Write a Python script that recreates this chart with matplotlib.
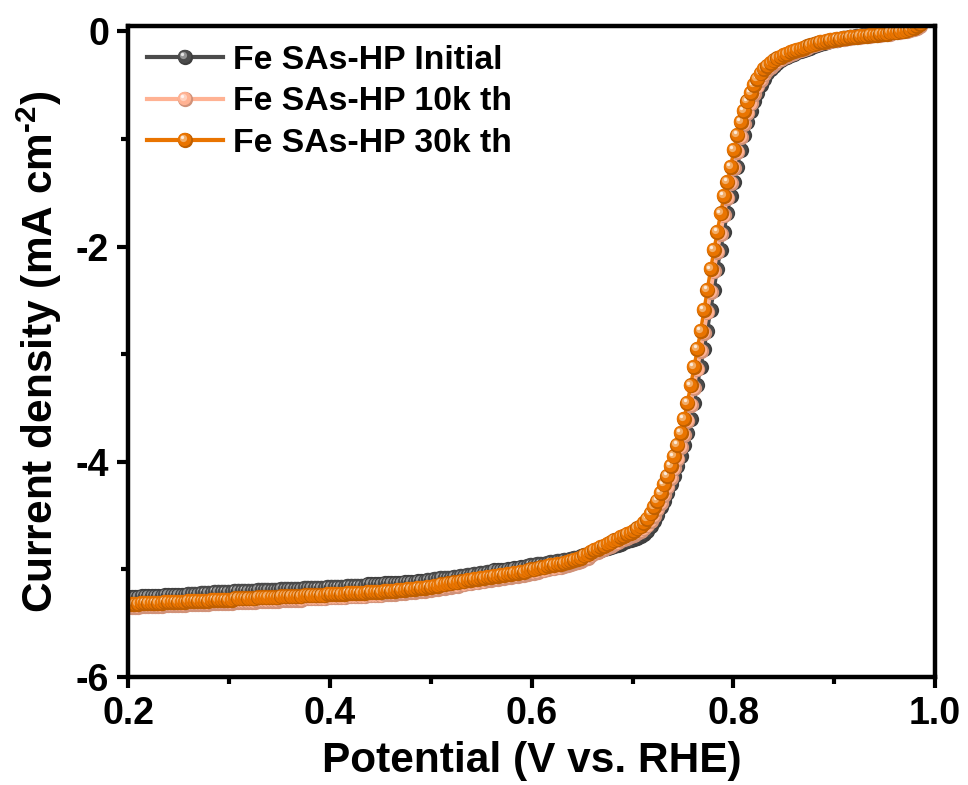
import numpy as np
import matplotlib
matplotlib.use("Agg")
import matplotlib.pyplot as plt
import matplotlib.transforms as mtransforms
from matplotlib.colors import to_rgb
from matplotlib.lines import Line2D
from matplotlib.legend_handler import HandlerLine2D, HandlerTuple
from matplotlib.ticker import MultipleLocator

# ---- data: LSV sweep, potential sampled every 3.3 mV ----
potential = np.round(0.2 + 0.0033 * np.arange(239), 4)

initial = [
    -5.26, -5.26, -5.26, -5.26, -5.25, -5.25, -5.25, -5.25, -5.25, -5.25,
    -5.25, -5.24, -5.24, -5.24, -5.24, -5.24, -5.24, -5.24, -5.23, -5.23,
    -5.23, -5.23, -5.22, -5.22, -5.22, -5.22, -5.21, -5.21, -5.21, -5.21,
    -5.21, -5.21, -5.20, -5.20, -5.20, -5.20, -5.20, -5.20, -5.20, -5.19,
    -5.19, -5.19, -5.19, -5.19, -5.19, -5.19, -5.18, -5.18, -5.18, -5.18,
    -5.18, -5.18, -5.18, -5.17, -5.17, -5.17, -5.17, -5.17, -5.17, -5.17,
    -5.16, -5.16, -5.16, -5.16, -5.16, -5.16, -5.15, -5.15, -5.15, -5.15,
    -5.15, -5.15, -5.14, -5.14, -5.14, -5.14, -5.14, -5.13, -5.13, -5.13,
    -5.13, -5.13, -5.13, -5.12, -5.12, -5.12, -5.12, -5.11, -5.11, -5.11,
    -5.10, -5.10, -5.09, -5.09, -5.08, -5.08, -5.08, -5.08, -5.07, -5.07,
    -5.06, -5.06, -5.05, -5.05, -5.04, -5.04, -5.03, -5.03, -5.02, -5.02,
    -5.01, -5.01, -5.01, -5.01, -5.00, -5.00, -4.99, -4.99, -4.98, -4.98,
    -4.97, -4.96, -4.96, -4.95, -4.95, -4.95, -4.94, -4.93, -4.93, -4.92,
    -4.92, -4.91, -4.91, -4.90, -4.89, -4.89, -4.88, -4.87, -4.86, -4.85,
    -4.84, -4.83, -4.82, -4.81, -4.80, -4.79, -4.78, -4.77, -4.76, -4.75,
    -4.74, -4.73, -4.72, -4.71, -4.69, -4.67, -4.64, -4.60, -4.55, -4.49,
    -4.42, -4.36, -4.29, -4.21, -4.13, -4.04, -3.95, -3.84, -3.73, -3.60,
    -3.45, -3.29, -3.12, -2.95, -2.78, -2.59, -2.40, -2.21, -2.03, -1.86,
    -1.69, -1.53, -1.40, -1.26, -1.10, -0.96, -0.84, -0.74, -0.65, -0.57,
    -0.50, -0.44, -0.39, -0.35, -0.32, -0.29, -0.27, -0.25, -0.24, -0.22,
    -0.21, -0.19, -0.18, -0.17, -0.16, -0.15, -0.14, -0.13, -0.12, -0.11,
    -0.10, -0.09, -0.08, -0.08, -0.07, -0.06, -0.06, -0.05, -0.05, -0.04,
    -0.04, -0.03, -0.03, -0.03, -0.02, -0.02, -0.02, -0.01, -0.01, -0.01,
    0.00, 0.00, 0.01, 0.01, 0.02, 0.03, 0.04, 0.05, 0.07,
]

cycles_10k = [
    -5.35, -5.35, -5.35, -5.35, -5.34, -5.34, -5.34, -5.34, -5.34, -5.34,
    -5.34, -5.33, -5.33, -5.33, -5.33, -5.33, -5.33, -5.33, -5.32, -5.32,
    -5.32, -5.32, -5.32, -5.32, -5.32, -5.31, -5.31, -5.31, -5.31, -5.31,
    -5.31, -5.31, -5.30, -5.30, -5.30, -5.30, -5.30, -5.30, -5.30, -5.29,
    -5.29, -5.29, -5.29, -5.29, -5.29, -5.29, -5.28, -5.28, -5.28, -5.28,
    -5.28, -5.28, -5.28, -5.27, -5.27, -5.27, -5.27, -5.27, -5.27, -5.27,
    -5.26, -5.26, -5.26, -5.26, -5.26, -5.26, -5.25, -5.25, -5.25, -5.25,
    -5.25, -5.25, -5.24, -5.24, -5.24, -5.24, -5.24, -5.23, -5.23, -5.23,
    -5.23, -5.22, -5.22, -5.22, -5.21, -5.21, -5.21, -5.20, -5.20, -5.20,
    -5.19, -5.19, -5.18, -5.18, -5.17, -5.17, -5.16, -5.16, -5.15, -5.15,
    -5.14, -5.14, -5.13, -5.13, -5.12, -5.12, -5.11, -5.11, -5.10, -5.10,
    -5.09, -5.09, -5.08, -5.08, -5.07, -5.07, -5.06, -5.06, -5.05, -5.05,
    -5.04, -5.03, -5.03, -5.02, -5.01, -5.01, -5.00, -4.99, -4.99, -4.98,
    -4.98, -4.97, -4.96, -4.95, -4.94, -4.93, -4.92, -4.90, -4.89, -4.87,
    -4.85, -4.84, -4.82, -4.81, -4.79, -4.78, -4.76, -4.75, -4.73, -4.72,
    -4.71, -4.69, -4.68, -4.66, -4.64, -4.62, -4.59, -4.55, -4.50, -4.44,
    -4.38, -4.31, -4.23, -4.15, -4.06, -3.97, -3.86, -3.75, -3.62, -3.47,
    -3.31, -3.14, -2.97, -2.80, -2.61, -2.42, -2.23, -2.05, -1.88, -1.71,
    -1.55, -1.41, -1.27, -1.12, -0.98, -0.86, -0.76, -0.67, -0.58, -0.51,
    -0.45, -0.40, -0.36, -0.33, -0.30, -0.28, -0.26, -0.24, -0.23, -0.21,
    -0.20, -0.18, -0.17, -0.16, -0.15, -0.14, -0.13, -0.12, -0.11, -0.10,
    -0.10, -0.09, -0.08, -0.08, -0.07, -0.07, -0.06, -0.06, -0.05, -0.05,
    -0.05, -0.04, -0.04, -0.04, -0.03, -0.03, -0.03, -0.02, -0.02, -0.02,
    -0.01, -0.01, -0.01, 0.00, 0.00, 0.01, 0.02, 0.03, 0.05,
]

cycles_30k = [
    -5.32, -5.32, -5.32, -5.32, -5.31, -5.31, -5.31, -5.31, -5.31, -5.31,
    -5.31, -5.30, -5.30, -5.30, -5.30, -5.30, -5.30, -5.30, -5.29, -5.29,
    -5.29, -5.29, -5.29, -5.29, -5.29, -5.28, -5.28, -5.28, -5.28, -5.28,
    -5.28, -5.28, -5.27, -5.27, -5.27, -5.27, -5.27, -5.27, -5.27, -5.26,
    -5.26, -5.26, -5.26, -5.26, -5.26, -5.26, -5.25, -5.25, -5.25, -5.25,
    -5.25, -5.25, -5.25, -5.24, -5.24, -5.24, -5.24, -5.24, -5.24, -5.24,
    -5.23, -5.23, -5.23, -5.23, -5.23, -5.23, -5.22, -5.22, -5.22, -5.22,
    -5.22, -5.22, -5.21, -5.21, -5.21, -5.21, -5.21, -5.20, -5.20, -5.20,
    -5.20, -5.19, -5.19, -5.19, -5.18, -5.18, -5.18, -5.17, -5.17, -5.17,
    -5.16, -5.16, -5.15, -5.15, -5.14, -5.14, -5.13, -5.13, -5.12, -5.12,
    -5.11, -5.11, -5.10, -5.10, -5.09, -5.09, -5.08, -5.08, -5.07, -5.07,
    -5.06, -5.06, -5.05, -5.05, -5.04, -5.04, -5.03, -5.03, -5.02, -5.02,
    -5.01, -5.00, -5.00, -4.99, -4.98, -4.98, -4.97, -4.96, -4.96, -4.95,
    -4.95, -4.94, -4.93, -4.92, -4.91, -4.90, -4.89, -4.87, -4.86, -4.84,
    -4.82, -4.81, -4.79, -4.78, -4.76, -4.75, -4.73, -4.72, -4.70, -4.69,
    -4.67, -4.66, -4.64, -4.62, -4.60, -4.57, -4.53, -4.48, -4.42, -4.36,
    -4.29, -4.21, -4.13, -4.04, -3.95, -3.84, -3.73, -3.60, -3.45, -3.29,
    -3.12, -2.95, -2.78, -2.59, -2.40, -2.21, -2.03, -1.86, -1.69, -1.53,
    -1.40, -1.26, -1.10, -0.96, -0.84, -0.74, -0.65, -0.57, -0.50, -0.44,
    -0.39, -0.35, -0.32, -0.29, -0.27, -0.25, -0.24, -0.22, -0.21, -0.19,
    -0.18, -0.17, -0.16, -0.15, -0.14, -0.13, -0.12, -0.11, -0.10, -0.10,
    -0.09, -0.08, -0.08, -0.07, -0.07, -0.06, -0.06, -0.05, -0.05, -0.05,
    -0.04, -0.04, -0.04, -0.03, -0.03, -0.03, -0.02, -0.02, -0.02, -0.01,
    -0.01, -0.01, 0.00, 0.00, 0.01, 0.02, 0.03, 0.05, 0.07,
]

series_labels = ["Fe SAs-HP Initial", "Fe SAs-HP 10k th", "Fe SAs-HP 30k th"]
series_colors = ["#4b4b4b", "#ffb293", "#e97400"]

x_ticks = [0.2, 0.4, 0.6, 0.8, 1.0]
x_ticklabels = ["0.2", "0.4", "0.6", "0.8", "1.0"]
y_ticks = [-6, -4, -2, 0]
y_ticklabels = ["-6", "-4", "-2", "0"]

# ---- style ----
FONT = "Liberation Sans"
plt.rcParams["font.family"] = [FONT, "DejaVu Sans"]
plt.rcParams["font.weight"] = "bold"
plt.rcParams["mathtext.fontset"] = "custom"
plt.rcParams["mathtext.rm"] = FONT + ":bold"
plt.rcParams["mathtext.bf"] = FONT + ":bold"
plt.rcParams["mathtext.default"] = "rm"

DPI = 100
fig = plt.figure(figsize=(9.68, 7.85), dpi=DPI)
ax = fig.add_axes([0.1327, 0.1376, 0.8332, 0.8293])


def blend(c, other, t):
    a = np.array(to_rgb(c))
    b = np.array(to_rgb(other))
    return tuple(a * (1 - t) + b * t)


def px_shift(dx, dy):
    return mtransforms.ScaledTranslation(dx / DPI, dy / DPI, fig.dpi_scale_trans)


def sphere_layers(color):
    # (markersize, colour, dx_px, dy_px) from the shaded rim to the highlight
    return [
        (11.0, blend(color, "black", 0.18), 0.0, 0.0),
        (9.6, to_rgb(color), -0.7, 0.7),
        (5.2, blend(color, "white", 0.40), -2.0, 2.0),
        (2.4, blend(color, "white", 0.85), -2.6, 2.6),
    ]


series = [initial, cycles_10k, cycles_30k]
for k, (yv, col) in enumerate(zip(series, series_colors)):
    z0 = 2 + k
    ax.plot(potential, yv, "-", color=col, lw=2.5, zorder=z0, solid_capstyle="round")
    layers = sphere_layers(col)
    for i, (xp, yp) in enumerate(zip(potential, yv)):
        z = z0 + 0.001 * (i + 1)
        for j, (ms, c, dx, dy) in enumerate(layers):
            ax.plot([xp], [yp], "o", ms=ms, mfc=c, mec="none",
                    transform=ax.transData + px_shift(dx, dy),
                    zorder=z + 0.0002 * j)

ax.set_xlim(0.2, 1.0)
ax.set_ylim(-6, 0.05)
ax.set_xticks(x_ticks)
ax.set_xticklabels(x_ticklabels)
ax.set_yticks(y_ticks)
ax.set_yticklabels(y_ticklabels)
ax.xaxis.set_minor_locator(MultipleLocator(0.1))
ax.yaxis.set_minor_locator(MultipleLocator(1))
ax.tick_params(which="both", direction="out", width=3, top=False, right=False,
               labelsize=27, pad=6)
ax.tick_params(which="major", length=8)
ax.tick_params(which="minor", length=5)
for lab in ax.get_xticklabels() + ax.get_yticklabels():
    lab.set_fontweight("bold")
for sp in ax.spines.values():
    sp.set_linewidth(3.2)
    sp.set_zorder(10)

ax.set_xlabel("Potential (V vs. RHE)", fontsize=30.5, fontweight="bold", labelpad=6)
ax.set_ylabel(r"Current density (mA cm$^{\text{-}2}$)", fontsize=30.5,
              fontweight="bold", labelpad=8)


# ---- legend with shaded ball markers ----
class ShiftedMarker(HandlerLine2D):
    def __init__(self, dx, dy, **kw):
        super().__init__(**kw)
        self.dx, self.dy = dx, dy

    def create_artists(self, legend, orig_handle, xdescent, ydescent,
                       width, height, fontsize, trans):
        off = mtransforms.ScaledTranslation(self.dx / DPI, self.dy / DPI,
                                            legend.figure.dpi_scale_trans)
        return super().create_artists(legend, orig_handle, xdescent, ydescent,
                                      width, height, fontsize, trans + off)


handles = []
handler_map = {tuple: HandlerTuple(ndivide=1, pad=0)}
for col in series_colors:
    parts = []
    for j, (ms, c, dx, dy) in enumerate(sphere_layers(col)):
        h = Line2D([], [], marker="o", ms=ms, mfc=c, mec="none",
                   color=col, lw=3.0 if j == 0 else 0,
                   linestyle="-" if j == 0 else "none")
        handler_map[h] = ShiftedMarker(dx, dy)
        parts.append(h)
    handles.append(tuple(parts))

ax.legend(handles, series_labels, handler_map=handler_map, loc="upper left",
          bbox_to_anchor=(0.023, 0.971), frameon=False, numpoints=1,
          prop={"family": FONT, "weight": "bold", "size": 24.3},
          handlelength=2.25, handletextpad=0.3, labelspacing=0.31,
          borderpad=0, borderaxespad=0)

fig.savefig("out.png", dpi=DPI)
